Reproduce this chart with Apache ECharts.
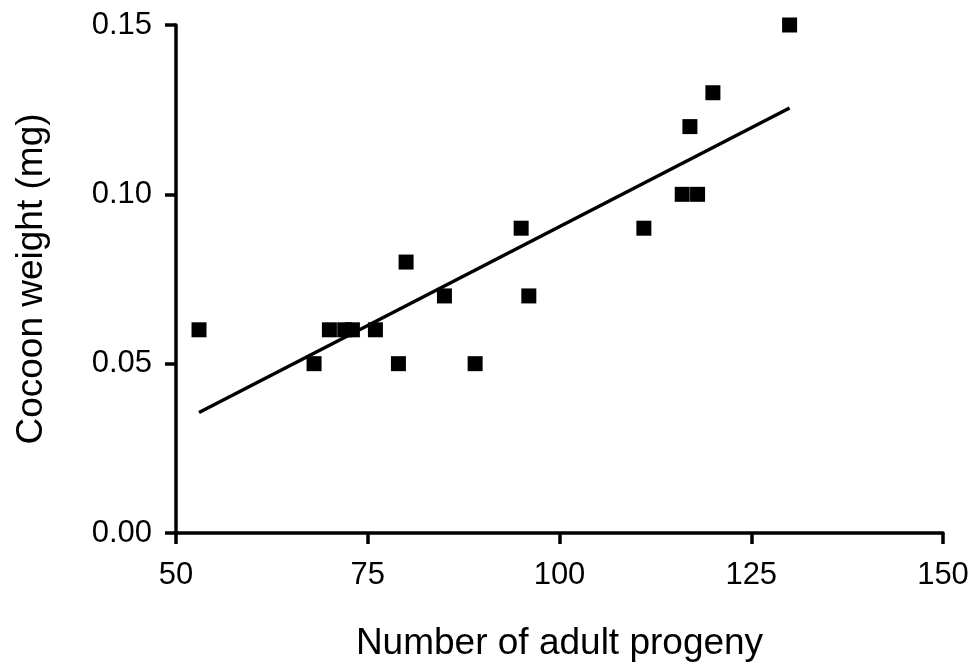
<!DOCTYPE html>
<html>
<head>
<meta charset="utf-8">
<title>Cocoon weight vs adult progeny</title>
<script src="https://cdn.jsdelivr.net/npm/echarts@6/dist/echarts.min.js"></script>
<style>
  html, body { margin: 0; padding: 0; background: #fff; }
  #chart { width: 975px; height: 669px; }
</style>
</head>
<body>
<div id="chart"></div>
<script>
// observed points
const progeny = [53, 68, 70, 72, 73, 76, 79, 80, 85, 89, 95, 96, 111, 116, 118, 117, 120, 130]
const weight = [0.06, 0.05, 0.06, 0.06, 0.06, 0.06, 0.05, 0.08, 0.07, 0.05, 0.09, 0.07, 0.09, 0.10, 0.10, 0.12, 0.13, 0.15]

// fitted line end points
const fitX = [53, 130]
const fitY = [0.0356, 0.1255]

const font = 'Liberation Sans, Arial, Helvetica, sans-serif'

const points = progeny.map((x, i) => [x, weight[i]])
const fitLine = fitX.map((x, i) => [x, fitY[i]])

const axisCommon = {
  axisLine: { show: true, lineStyle: { color: '#000', width: 3.5 } },
  axisTick: { show: true, inside: false, length: 11, lineStyle: { color: '#000', width: 3.5 } },
  splitLine: { show: false },
  nameLocation: 'middle',
  nameTextStyle: { color: '#000', fontSize: 37, fontFamily: font }
}

const option = {
  backgroundColor: '#fff',
  animation: false,
  grid: { left: 176, right: 32, top: 25, bottom: 136 },
  xAxis: Object.assign({}, axisCommon, {
    type: 'value',
    min: 50,
    max: 150,
    interval: 25,
    name: 'Number of adult progeny',
    nameGap: 92,
    axisLabel: { color: '#000', fontSize: 31, fontFamily: font, margin: 27 }
  }),
  yAxis: Object.assign({}, axisCommon, {
    type: 'value',
    min: 0,
    max: 0.15,
    interval: 0.05,
    name: 'Cocoon weight (mg)',
    nameGap: 126,
    axisLabel: {
      color: '#000', fontSize: 31, fontFamily: font, margin: 24,
      formatter: v => v.toFixed(2)
    }
  }),
  series: [
    {
      type: 'line',
      data: fitLine,
      showSymbol: false,
      symbol: 'none',
      lineStyle: { color: '#000', width: 3.5 }
    },
    {
      type: 'scatter',
      data: points,
      symbol: 'rect',
      symbolSize: 15,
      clip: false,
      itemStyle: { color: '#000', opacity: 1 }
    }
  ]
}

const chart = echarts.init(document.getElementById('chart'))
chart.setOption(option)
</script>
</body>
</html>
